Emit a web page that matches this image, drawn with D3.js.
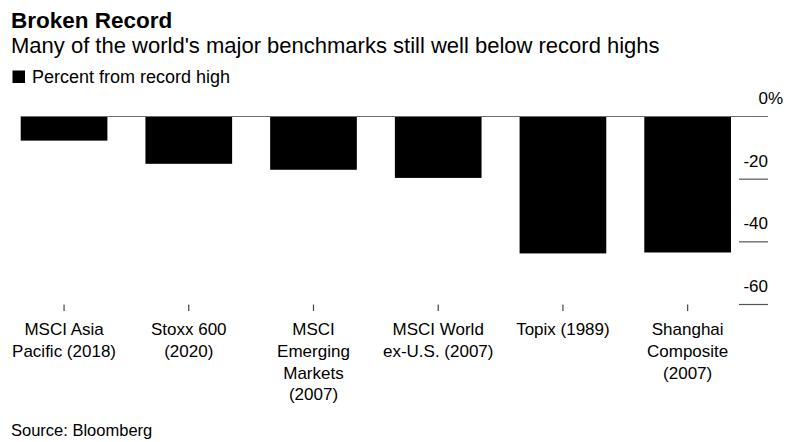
<!DOCTYPE html>
<html>
<head>
<meta charset="utf-8">
<script src="https://cdn.jsdelivr.net/npm/d3@7"></script>
<style>
  body { margin: 0; background: #fff; }
  text { font-family: "Liberation Sans", Arial, sans-serif; fill: #000; }
</style>
</head>
<body>
<div id="chart"></div>
<script>
// data
const categories = ["MSCI Asia|Pacific (2018)", "Stoxx 600|(2020)", "MSCI|Emerging|Markets|(2007)",
  "MSCI World|ex-U.S. (2007)", "Topix (1989)", "Shanghai|Composite|(2007)"];
const pctFromHigh = [-7.7, -15.1, -17.0, -19.6, -43.7, -43.4];
const yTicks = [0, -20, -40, -60];

const W = 797, H = 442;

const svg = d3.select("#chart")
  .append("svg")
  .attr("width", W)
  .attr("height", H);

// titles
svg.append("text").attr("x", 11).attr("y", 27.5)
  .style("font-size", "22.5px").style("font-weight", "bold")
  .text("Broken Record");
svg.append("text").attr("x", 11).attr("y", 53)
  .style("font-size", "22px")
  .text("Many of the world's major benchmarks still well below record highs");

// legend
svg.append("rect").attr("x", 12.5).attr("y", 70.5).attr("width", 12.5).attr("height", 12.5).attr("fill", "#000");
svg.append("text").attr("x", 32).attr("y", 83)
  .style("font-size", "18px")
  .text("Percent from record high");

// scales
const x = d3.scaleBand()
  .domain(categories)
  .range([1.7, 750])
  .paddingInner(0.305)
  .paddingOuter(0.1525);

const y = d3.scaleLinear()
  .domain([0, -60])
  .range([116.5, 304.5]);

// bars
svg.append("g")
  .selectAll("rect")
  .data(pctFromHigh)
  .join("rect")
  .attr("x", (d, i) => x(categories[i]))
  .attr("width", x.bandwidth())
  .attr("y", y(0))
  .attr("height", d => y(d) - y(0))
  .attr("fill", "#000");

// y axis on the right: short lines and labels above them
const yg = svg.append("g");
yg.selectAll("line")
  .data(yTicks)
  .join("line")
  .attr("x1", d => d === 0 ? 20.7 : 739)
  .attr("x2", 768)
  .attr("y1", d => y(d))
  .attr("y2", d => y(d))
  .attr("stroke", d => d === 0 ? "#6e6e6e" : "#555")
  .attr("stroke-width", 1.2);
yg.selectAll("text")
  .data(yTicks)
  .join("text")
  .attr("x", 768)
  .attr("y", d => y(d) - 12.5)
  .attr("text-anchor", "end")
  .style("font-size", "17px")
  .text(d => d === 0 ? "0" : d);
yg.append("text")
  .attr("x", 768).attr("y", y(0) - 12.5)
  .style("font-size", "17px")
  .text("%");

// x axis: ticks only, labels wrapped
const xg = svg.append("g")
  .attr("transform", `translate(0, ${y(-60)})`)
  .call(d3.axisBottom(x).tickSize(6.5).tickPadding(0).tickFormat(""));
xg.select(".domain").remove();
xg.selectAll(".tick line").attr("stroke", "#444").attr("stroke-width", 1.2);

const labels = svg.append("g");
categories.forEach(c => {
  const t = labels.append("text")
    .attr("text-anchor", "middle")
    .style("font-size", "17px");
  c.split("|").forEach((s, k) => {
    t.append("tspan")
      .attr("x", x(c) + x.bandwidth() / 2)
      .attr("y", 335 + k * 21.8)
      .text(s);
  });
});

// source
svg.append("text").attr("x", 11).attr("y", 435.5)
  .style("font-size", "16.5px")
  .text("Source: Bloomberg");
</script>
</body>
</html>
